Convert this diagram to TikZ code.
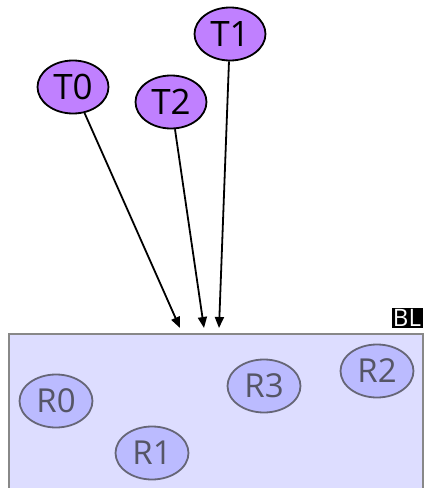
\documentclass[tikz,border=0pt]{standalone}
\usepackage{fontspec}
\setmainfont{Open Sans}
\usetikzlibrary{shapes.geometric,arrows.meta}
\definecolor{tfill}{HTML}{C080FF}
\definecolor{bgfill}{HTML}{DDDDFF}
\definecolor{bgline}{HTML}{888888}
\definecolor{rfill}{HTML}{BBBBFF}
\definecolor{rline}{HTML}{666677}
\definecolor{rtext}{HTML}{555566}
\tikzset{
  tnode/.style={ellipse,draw=black,line width=1.8pt,fill=tfill,inner sep=0pt,
    minimum width=71pt,minimum height=53pt,font=\fontsize{35}{35}\selectfont},
  rnode/.style={ellipse,draw=rline,line width=1.8pt,fill=rfill,text=rtext,inner sep=0pt,
    minimum width=73pt,minimum height=53pt,font=\fontsize{33}{33}\selectfont},
  conn/.style={line width=1.8pt,-{Triangle[length=11pt,width=9pt]}},
}
\begin{document}
\begin{tikzpicture}[x=1pt,y=1pt]
\clip (0,0) rectangle (424,-488);
\fill[white] (0,0) rectangle (424,-488);
\draw[fill=bgfill,draw=bgline,line width=2pt] (9,-334) rectangle (423,-500);
\node[fill=black,text=white,inner sep=0pt,minimum width=31pt,minimum height=20pt,
  font=\fontsize{24}{24}\selectfont] (BL) at (407,-318) {BL};
\node[tnode] (T0) at (73,-87) {T0};
\node[tnode] (T2) at (171,-102) {T2};
\node[tnode] (T1) at (230,-34) {T1};
\node[rnode] (R0) at (56,-401) {R0};
\node[rnode] (R1) at (152,-453) {R1};
\node[rnode] (R3) at (264,-386) {R3};
\node[rnode] (R2) at (377,-371) {R2};
\coordinate (a0) at (180,-328);
\coordinate (a2) at (204,-328);
\coordinate (a1) at (219,-328);
\draw[conn] (T0) -- (a0);
\draw[conn] (T2) -- (a2);
\draw[conn] (T1) -- (a1);
\end{tikzpicture}
\end{document}
